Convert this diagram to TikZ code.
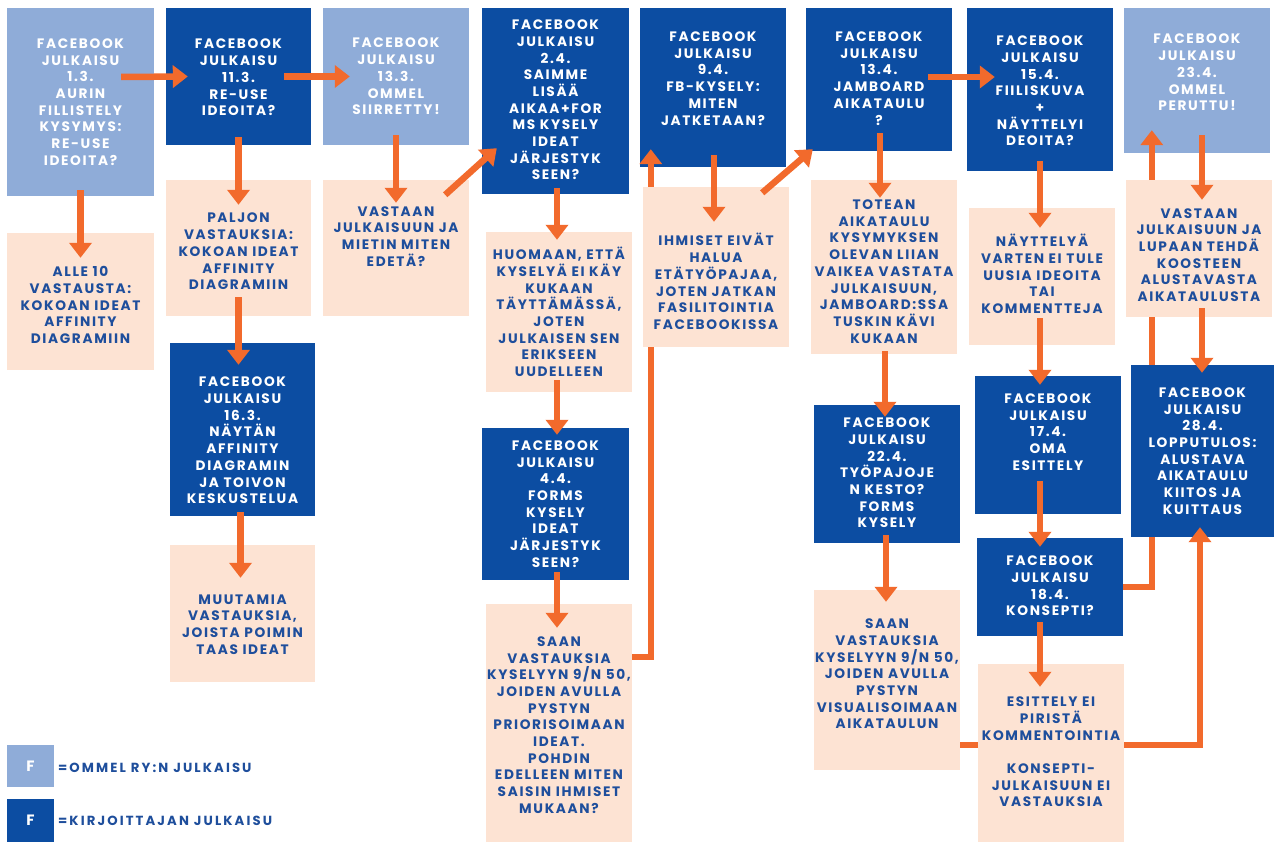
\documentclass[tikz,border=0pt]{standalone}
\usepackage{fontspec}
\usetikzlibrary{arrows.meta}
\newfontfamily\boxfont{Poppins}[LetterSpace=12]
\newfontfamily\legfont{Poppins}[LetterSpace=16]
\definecolor{lblue}{HTML}{8FACD8}
\definecolor{dblue}{HTML}{0C4DA2}
\definecolor{peach}{HTML}{FDE3D3}
\definecolor{ptext}{HTML}{1E4E9C}
\definecolor{orng}{HTML}{F26A2C}
\pgfdeclarelayer{back}
\pgfdeclarelayer{bg}
\pgfsetlayers{back,bg,main}
\newcommand\bx[8]{%
 \node[box,#2,minimum width=#5pt,minimum height=#6pt] (#1) at (#3,#4) {};
 \node[#2txt] (#1t) at (#3,{#4+#7}) {#8};}
\tikzset{
 box/.style={rectangle,inner sep=0pt,draw=none},
 lb/.style={fill=lblue}, dk/.style={fill=dblue}, pc/.style={fill=peach},
 basetxt/.style={align=center,inner sep=0pt,font=\fontsize{13.7}{16.7}\boxfont\bfseries},
 lbtxt/.style={basetxt,text=white},
 dktxt/.style={basetxt,text=white},
 pctxt/.style={basetxt,text=ptext},
 legtxt/.style={inner sep=0pt,text=ptext,font=\fontsize{13.2}{15}\legfont\bfseries},
 legf/.style={inner sep=0pt,text=white,font=\fontsize{15}{16}\boxfont\bfseries},
 arr/.style={draw=orng,line width=6.5pt,-{Triangle[width=22pt,length=15pt]}},
 ln/.style={draw=orng,line width=6.5pt}
}
\begin{document}
\begin{tikzpicture}[x=1pt,y=-1pt]
\begin{pgfonlayer}{back}
\fill[white] (0,0) rectangle (1274,842);
\end{pgfonlayer}
\useasboundingbox (0,0) rectangle (1274,842);
\bx{A1}{lb}{80.5}{102}{147}{188}{0}{FACEBOOK\\JULKAISU\\1.3.\\AURIN\\FILLISTELY\\KYSYMYS:\\RE-USE\\IDEOITA?}
\bx{A2}{pc}{80.5}{301.5}{147}{137}{3.5}{ALLE 10\\VASTAUSTA:\\KOKOAN IDEAT\\AFFINITY\\DIAGRAMIIN}
\bx{B1}{dk}{238.5}{76.5}{145}{137}{1}{FACEBOOK\\JULKAISU\\11.3.\\RE-USE\\IDEOITA?}
\bx{B2}{pc}{238.5}{248}{145}{136}{3.5}{PALJON\\VASTAUKSIA:\\KOKOAN IDEAT\\AFFINITY\\DIAGRAMIIN}
\bx{B3}{dk}{242.5}{429.5}{145}{173}{11}{FACEBOOK\\JULKAISU\\16.3.\\NÄYTÄN\\AFFINITY\\DIAGRAMIN\\JA TOIVON\\KESKUSTELUA}
\bx{B4}{pc}{242.5}{613.5}{145}{137}{11}{MUUTAMIA\\VASTAUKSIA,\\JOISTA POIMIN\\TAAS IDEAT}
\bx{C1}{lb}{396}{76.5}{146}{137}{0}{FACEBOOK\\JULKAISU\\13.3.\\OMMEL\\SIIRRETTY!}
\bx{C2}{pc}{396}{248}{146}{136}{-11.5}{VASTAAN\\JULKAISUUN JA\\MIETIN MITEN\\EDETÄ?}
\bx{D1}{dk}{555.5}{101}{147}{186}{-1}{FACEBOOK\\JULKAISU\\2.4.\\SAIMME\\LISÄÄ\\AIKAA+FOR\\MS KYSELY\\IDEAT\\JÄRJESTYK\\SEEN?}
\bx{D2}{pc}{559}{312}{146}{160}{0}{HUOMAAN, ETTÄ\\KYSELYÄ EI KÄY\\KUKAAN\\TÄYTTÄMÄSSÄ,\\JOTEN\\JULKAISEN SEN\\ERIKSEEN\\UUDELLEEN}
\bx{D3}{dk}{555.5}{504}{147}{152}{0}{FACEBOOK\\JULKAISU\\4.4.\\FORMS\\KYSELY\\IDEAT\\JÄRJESTYK\\SEEN?}
\bx{D4}{pc}{559}{723}{146}{238}{2}{SAAN\\VASTAUKSIA\\KYSELYYN 9/N 50,\\JOIDEN AVULLA\\PYSTYN\\PRIORISOIMAAN\\IDEAT.\\POHDIN\\EDELLEEN MITEN\\SAISIN IHMISET\\MUKAAN?}
\bx{E1}{dk}{713}{87.5}{146}{159}{-9}{FACEBOOK\\JULKAISU\\9.4.\\FB-KYSELY:\\MITEN\\JATKETAAN?}
\bx{E2}{pc}{716}{267}{146}{160}{14.5}{IHMISET EIVÄT\\HALUA\\ETÄTYÖPAJAA,\\JOTEN JATKAN\\FASILITOINTIA\\FACEBOOKISSA}
\bx{F1}{dk}{879}{79.5}{146}{143}{-1}{FACEBOOK\\JULKAISU\\13.4.\\JAMBOARD\\AIKATAULU\\?}
\bx{F2}{pc}{884}{267}{146}{174}{4.5}{TOTEAN\\AIKATAULU\\KYSYMYKSEN\\OLEVAN LIIAN\\VAIKEA VASTATA\\JULKAISUUN,\\JAMBOARD:SSA\\TUSKIN KÄVI\\KUKAAN}
\bx{F3}{dk}{887}{474}{146}{138}{-1}{FACEBOOK\\JULKAISU\\22.4.\\TYÖPAJOJE\\N KESTO?\\FORMS\\KYSELY}
\bx{F4}{pc}{887}{680}{146}{180}{-6}{SAAN\\VASTAUKSIA\\KYSELYYN 9/N 50,\\JOIDEN AVULLA\\PYSTYN\\VISUALISOIMAAN\\AIKATAULUN}
\bx{G1}{dk}{1040}{89.5}{146}{163}{1.5}{FACEBOOK\\JULKAISU\\15.4.\\FIILISKUVA\\+\\NÄYTTELYI\\DEOITA?}
\bx{G2}{pc}{1042}{276.5}{146}{137}{-2.5}{NÄYTTELYÄ\\VARTEN EI TULE\\UUSIA IDEOITA\\TAI\\KOMMENTTEJA}
\bx{G3}{dk}{1048}{445}{146}{138}{-13}{FACEBOOK\\JULKAISU\\17.4.\\OMA\\ESITTELY}
\bx{G4}{dk}{1050}{587}{146}{98}{-1}{FACEBOOK\\JULKAISU\\18.4.\\KONSEPTI?}
\bx{G5}{pc}{1051}{753}{146}{178}{-1}{ESITTELY EI\\PIRISTÄ\\KOMMENTOINTIA\\[16.7pt]KONSEPTI-\\JULKAISUUN EI\\VASTAUKSIA}
\bx{H1}{lb}{1197}{80.5}{146}{145}{-8}{FACEBOOK\\JULKAISU\\23.4.\\OMMEL\\PERUTTU!}
\bx{H2}{pc}{1199}{248.5}{146}{137}{6.5}{VASTAAN\\JULKAISUUN JA\\LUPAAN TEHDÄ\\KOOSTEEN\\ALUSTAVASTA\\AIKATAULUSTA}
\bx{H3}{dk}{1202.5}{451}{143}{172}{0}{FACEBOOK\\JULKAISU\\28.4.\\LOPPUTULOS:\\ALUSTAVA\\AIKATAULU\\KIITOS JA\\KUITTAUS}
% legend
\node[box,lb,legf,minimum width=47pt,minimum height=42pt] (L1) at (30.5,766) {F};
\node[legtxt,anchor=west] (L1t) at (58,768) {=OMMEL RY:N JULKAISU};
\node[box,dk,legf,minimum width=47pt,minimum height=43pt] (L2) at (30.5,820.5) {F};
\node[legtxt,anchor=west] (L2t) at (58,821) {=KIRJOITTAJAN JULKAISU};
% helper coordinates
\coordinate (ex) at ([xshift=11pt,yshift=18pt]E1.south west);
\coordinate (hx) at ([xshift=28pt,yshift=23pt]H1.south west);
% connectors hidden partly behind boxes
\begin{pgfonlayer}{bg}
\draw[ln] ([yshift=66pt]D4.east) -| (ex);
\draw[ln] (G4.east) -| (hx);
\end{pgfonlayer}
\draw[arr] (ex |- E2.north) -- (ex);
\draw[arr] (hx |- H2.north) -- (hx);
% arrows
\draw[arr] ([xshift=-33pt,yshift=25pt]A1.east) -- ([xshift=22pt]B1.west);
\draw[arr] ([xshift=-27pt]B1.east) -- ([xshift=27pt]C1.west);
\draw[arr] ([yshift=6pt]A1.south) -- ([yshift=-25pt]A2.north);
\draw[arr] ([yshift=8pt]B1.south) -- ([yshift=-25pt]B2.north);
\draw[arr] ([yshift=19pt]B2.south) -- ([xshift=-4pt,yshift=-22pt]B3.north);
\draw[arr] ([xshift=-2pt,yshift=4pt]B3.south) -- ([xshift=-2pt,yshift=-33pt]B4.north);
\draw[arr] ([yshift=10pt]C1.south) -- ([yshift=-23pt]C2.north);
\draw[arr] ([xshift=-24pt,yshift=-15pt]C2.north east) -- ([xshift=15pt,yshift=46pt]D1.south west);
\draw[arr] ([xshift=1.5pt,yshift=6pt]D1.south) -- ([xshift=-2pt,yshift=-8pt]D2.north);
\draw[arr] ([xshift=-2pt,yshift=12pt]D2.south) -- ([xshift=1.5pt,yshift=-7pt]D3.north);
\draw[arr] ([xshift=1.5pt,yshift=8pt]D3.south) -- ([xshift=-2pt,yshift=-24pt]D4.north);
\draw[arr] ([xshift=1pt,yshift=12pt]E1.south) -- ([xshift=-2pt,yshift=-35pt]E2.north);
\draw[arr] ([xshift=-27pt,yshift=-6pt]E2.north east) -- ([xshift=7pt,yshift=2pt]F1.south west);
\draw[arr] ([xshift=-24pt,yshift=2.5pt]F1.east) -- ([xshift=28pt,yshift=12.5pt]G1.west);
\draw[arr] ([xshift=1pt,yshift=18pt]F1.south) -- ([xshift=-4pt,yshift=-18pt]F2.north);
\draw[arr] ([xshift=1pt,yshift=3pt]F2.south) -- ([xshift=-2pt,yshift=-12pt]F3.north);
\draw[arr] ([xshift=-1pt,yshift=8pt]F3.south) -- ([xshift=-1pt,yshift=-12pt]F4.north);
\draw[arr] ([yshift=10pt]G1.south) -- ([xshift=-2pt,yshift=-20pt]G2.north);
\draw[arr] ([xshift=-2pt,yshift=27pt]G2.south) -- ([xshift=-8pt,yshift=-9pt]G3.north);
\draw[arr] ([xshift=-8pt,yshift=33pt]G3.south) -- ([xshift=-10pt,yshift=-9pt]G4.north);
\draw[arr] ([xshift=-10pt,yshift=14pt]G4.south) -- ([xshift=-11pt,yshift=-23pt]G5.north);
\draw[ln] ([yshift=-65pt]F4.east) -- ([yshift=8pt]G5.west);
\draw[arr] ([yshift=8pt]G5.east) -| ([xshift=-2.5pt,yshift=10pt]H3.south);
\draw[arr] ([xshift=5pt,yshift=18pt]H1.south) -- ([xshift=3pt,yshift=-20pt]H2.north);
\draw[arr] ([xshift=3pt,yshift=9pt]H2.south) -- ([xshift=-0.5pt,yshift=-8pt]H3.north);
\end{tikzpicture}
\end{document}
